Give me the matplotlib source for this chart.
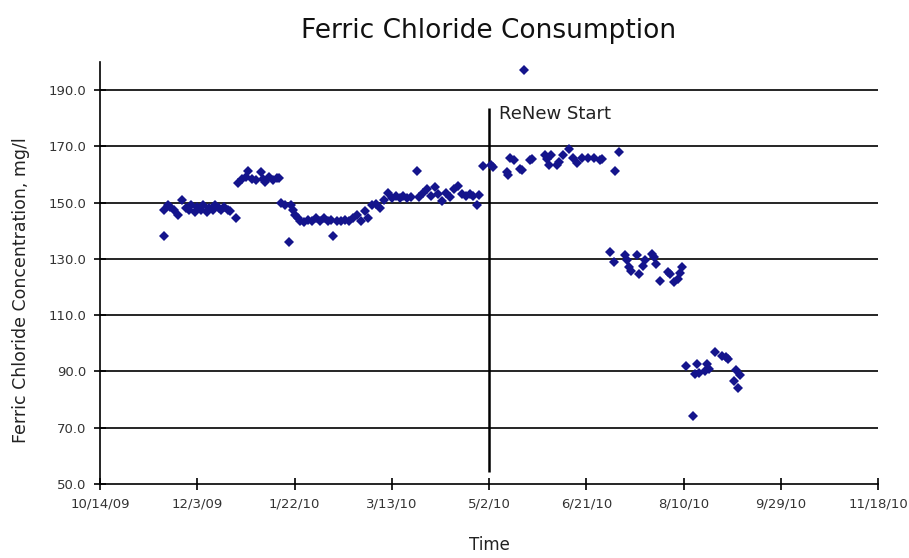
import numpy as np
import pandas as pd
import matplotlib
matplotlib.use("Agg")
import matplotlib.pyplot as plt

# Ferric chloride dose readings (date, mg/l)
dates = [
    "2009-11-16", "2009-11-16", "2009-11-18", "2009-11-19", "2009-11-21", "2009-11-23",
    "2009-11-25", "2009-11-27", "2009-11-29", "2009-11-30", "2009-12-02", "2009-12-03",
    "2009-12-05", "2009-12-06", "2009-12-08", "2009-12-09", "2009-12-11", "2009-12-12",
    "2009-12-14", "2009-12-15", "2009-12-17", "2009-12-19", "2009-12-20", "2009-12-23",
    "2009-12-24", "2009-12-26", "2009-12-28", "2009-12-29", "2009-12-31", "2010-01-02",
    "2010-01-05", "2010-01-06", "2010-01-07", "2010-01-09", "2010-01-11", "2010-01-13",
    "2010-01-14", "2010-01-15", "2010-01-17", "2010-01-19", "2010-01-20", "2010-01-21",
    "2010-01-22", "2010-01-24", "2010-01-25", "2010-01-27", "2010-01-29", "2010-01-31",
    "2010-02-02", "2010-02-04", "2010-02-06", "2010-02-08", "2010-02-10", "2010-02-11",
    "2010-02-13", "2010-02-15", "2010-02-17", "2010-02-19", "2010-02-21", "2010-02-23",
    "2010-02-25", "2010-02-27", "2010-03-01", "2010-03-03", "2010-03-05", "2010-03-07",
    "2010-03-09", "2010-03-11", "2010-03-13", "2010-03-15", "2010-03-17", "2010-03-19",
    "2010-03-21", "2010-03-23", "2010-03-26", "2010-03-27", "2010-03-29", "2010-03-31",
    "2010-04-02", "2010-04-04", "2010-04-06", "2010-04-08", "2010-04-10", "2010-04-12",
    "2010-04-14", "2010-04-16", "2010-04-18", "2010-04-20", "2010-04-22", "2010-04-24",
    "2010-04-26", "2010-04-27", "2010-04-29", "2010-05-03", "2010-05-04",
    # after ReNew start
    "2010-05-11", "2010-05-12", "2010-05-13", "2010-05-15", "2010-05-18", "2010-05-19",
    "2010-05-20", "2010-05-23", "2010-05-24", "2010-05-31", "2010-06-01", "2010-06-02",
    "2010-06-03", "2010-06-06", "2010-06-07", "2010-06-09", "2010-06-12", "2010-06-14",
    "2010-06-16", "2010-06-19", "2010-06-22", "2010-06-25", "2010-06-28", "2010-06-29",
    "2010-07-06", "2010-07-08",
    "2010-07-03", "2010-07-05", "2010-07-11", "2010-07-12", "2010-07-13", "2010-07-14",
    "2010-07-17", "2010-07-18", "2010-07-20", "2010-07-21", "2010-07-25", "2010-07-26",
    "2010-07-27", "2010-07-29", "2010-08-02", "2010-08-03", "2010-08-05", "2010-08-07",
    "2010-08-08", "2010-08-09",
    "2010-08-11", "2010-08-15", "2010-08-16", "2010-08-17", "2010-08-18", "2010-08-21",
    "2010-08-22", "2010-08-23", "2010-08-26", "2010-08-30", "2010-09-01", "2010-09-02",
    "2010-09-05", "2010-09-06", "2010-09-07", "2010-09-08",
]
values = [
    147.3, 138.1, 149.3, 148.5, 147.5, 145.7,
    150.8, 148.0, 147.5, 149.0, 146.5, 148.5,
    147.5, 149.0, 146.5, 148.0, 147.5, 149.0,
    148.0, 147.5, 148.5, 147.5, 147.0, 144.5,
    157.0, 158.5, 159.0, 161.2, 158.5, 158.0,
    161.0, 158.5, 157.5, 159.0, 158.2, 158.6,
    158.6, 150.0, 149.0, 136.0, 149.0, 147.5,
    145.5, 144.5, 143.5, 143.0, 144.0, 143.3,
    144.5, 143.5, 144.5, 143.5, 144.0, 138.3,
    143.3, 143.5, 144.0, 143.5, 144.5, 145.5,
    143.5, 147.0, 144.5, 149.0, 149.5, 148.0,
    151.0, 153.5, 151.5, 152.3, 151.5, 152.3,
    151.5, 152.0, 161.2, 152.0, 153.5, 155.0,
    152.5, 155.5, 153.0, 150.5, 153.5, 152.0,
    155.0, 156.0, 153.0, 152.5, 153.0, 152.5,
    149.3, 152.6, 163.0, 163.5, 162.5,
    161.0, 159.8, 166.0, 165.2, 162.0, 161.5,
    197.3, 165.2, 165.5, 167.0, 165.5, 163.4,
    167.0, 163.4, 164.5, 166.8, 169.0, 166.0,
    164.0, 165.8, 166.0, 165.8, 165.0, 165.5,
    161.2, 167.9,
    132.6, 129.0, 131.4, 129.5, 127.0, 125.8,
    131.4, 124.6, 127.5, 129.5, 131.8, 130.5,
    128.2, 122.3, 125.4, 124.5, 121.8, 123.0,
    125.0, 127.0,
    91.9, 74.3, 89.0, 92.5, 89.5, 90.0,
    92.5, 91.0, 96.8, 95.5, 95.0, 94.3,
    86.5, 90.5, 84.0, 88.9,
]
renew_date = "2010-05-02"
x_ticks = pd.date_range("2009-10-14", periods=9, freq="50D")
y_ticks = np.arange(50, 191, 20)

dates = pd.to_datetime(dates)

fig = plt.figure(figsize=(9.09, 5.58), dpi=100)
ax = fig.add_axes([0.11, 0.1326, 0.856, 0.7564])

for yv in y_ticks[1:]:
    ax.axhline(yv, color="black", lw=1.2, zorder=1)

ax.plot(dates, values, linestyle="none", marker="D", ms=5.5,
        color="#14148c", markeredgewidth=0, zorder=3)

ax.vlines(pd.Timestamp(renew_date), 54.3, 183.6, color="black", lw=1.8, zorder=2)
ax.text(pd.Timestamp(renew_date) + pd.Timedelta(days=5), 181.5, "ReNew Start",
        fontsize=13, color="#222222", va="center", ha="left")

ax.set_xlim(x_ticks[0], x_ticks[-1])
ax.set_ylim(50, 200)
ax.set_xticks(x_ticks)
ax.set_xticklabels([f"{d.month}/{d.day}/{d.strftime('%y')}" for d in x_ticks])
ax.set_yticks(y_ticks)
ax.set_yticklabels([f"{v:.1f}" for v in y_ticks])

for s in ["top", "right"]:
    ax.spines[s].set_visible(False)
for s in ["left", "bottom"]:
    ax.spines[s].set_linewidth(1.2)
ax.tick_params(direction="inout", length=8, width=1.2, labelsize=9.5,
               labelcolor="#333333", pad=6)

ax.set_xlabel("Time", fontsize=12, labelpad=18, color="#222222")
ax.set_ylabel("Ferric Chloride Concentration, mg/l", fontsize=12.5, color="#222222")
ax.yaxis.set_label_coords(-0.09, 0.46)
ax.set_title("Ferric Chloride Consumption", fontsize=19, pad=17, color="#111111")

fig.savefig("out.png", dpi=100)
